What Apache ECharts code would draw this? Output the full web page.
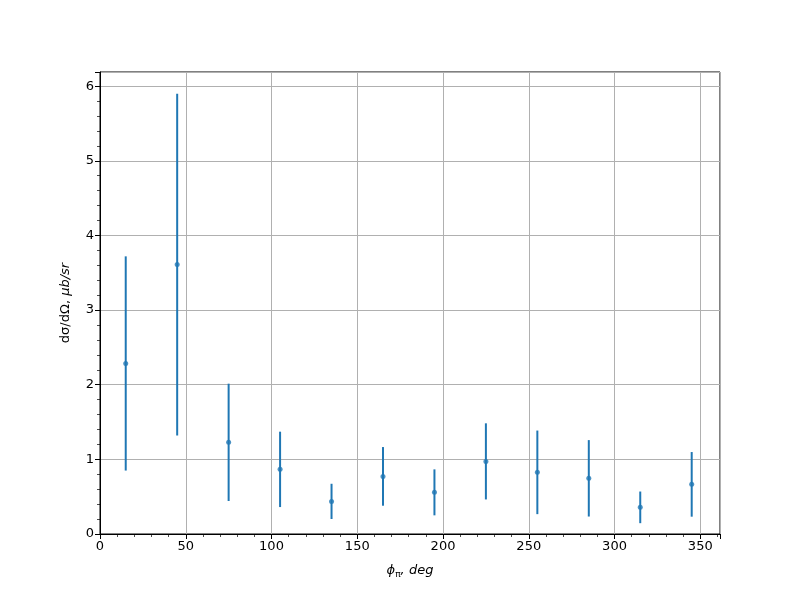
<!DOCTYPE html>
<html>
<head>
<meta charset="utf-8">
<script src="https://cdn.jsdelivr.net/npm/echarts@6/dist/echarts.min.js"></script>
<style>html,body{margin:0;padding:0;background:#fff}#c{width:800px;height:600px}</style>
</head>
<body>
<div id="c"></div>
<script>
const phi = [15, 45, 75, 105, 135, 165, 195, 225, 255, 285, 315, 345];
const xsec = [2.285, 3.61, 1.228, 0.866, 0.437, 0.772, 0.558, 0.973, 0.826, 0.746, 0.357, 0.665];
const err = [1.435, 2.29, 0.786, 0.505, 0.236, 0.393, 0.308, 0.510, 0.560, 0.512, 0.212, 0.433];
const xTicks = [0, 50, 100, 150, 200, 250, 300, 350];
const yTicks = [0, 1, 2, 3, 4, 5, 6];

const blue = '#1f77b4';
const font = 'DejaVu Sans';
const chart = echarts.init(document.getElementById('c'), null, {renderer: 'canvas'});

const errData = phi.map((x, i) => [x, xsec[i] - err[i], xsec[i] + err[i]]);
const ptData = phi.map((x, i) => [x, xsec[i]]);

chart.setOption({
  animation: false,
  backgroundColor: '#fff',
  grid: {left: 100, right: 80, top: 72, bottom: 66, show: true, borderColor: '#000', borderWidth: 1, backgroundColor: 'transparent'},
  xAxis: {
    type: 'value', min: 0, max: 361.5, interval: 50,
    axisLine: {show: true, onZero: false, lineStyle: {color: '#000', width: 1}},
    axisTick: {show: true, inside: false, length: 5, lineStyle: {color: '#000', width: 1}},
    minorTick: {show: true, splitNumber: 5, length: 3, lineStyle: {color: '#000', width: 0.7}},
    splitLine: {show: true, lineStyle: {color: '#b0b0b0', width: 1}},
    axisLabel: {color: '#000', fontFamily: font, fontSize: 13, margin: 6, showMaxLabel: false,
      formatter: v => xTicks.includes(v) ? String(v) : ''},
    name: '', nameLocation: 'middle', nameGap: 28,
    nameTextStyle: {
      rich: {
        it: {fontFamily: font, fontStyle: 'italic', fontSize: 13, color: '#000'},
        sub: {fontFamily: font, fontSize: 9, color: '#000', verticalAlign: 'bottom', padding: [8, 0, 0, 0]}
      }
    }
  },
  yAxis: {
    type: 'value', min: 0, max: 6.19, interval: 1,
    axisLine: {show: true, onZero: false, lineStyle: {color: '#000', width: 1}},
    axisTick: {show: true, inside: false, length: 5, lineStyle: {color: '#000', width: 1}},
    minorTick: {show: true, splitNumber: 5, length: 3, lineStyle: {color: '#000', width: 0.7}},
    splitLine: {show: true, lineStyle: {color: '#b0b0b0', width: 1}},
    axisLabel: {color: '#000', fontFamily: font, fontSize: 13, margin: 6, showMaxLabel: false,
      formatter: v => yTicks.includes(v) ? String(v) : ''},
    name: '{n|dσ/dΩ, }{it|μb/sr}', nameLocation: 'middle', nameGap: 28, nameRotate: 90,
    nameTextStyle: {
      rich: {
        n: {fontFamily: font, fontSize: 13, color: '#000'},
        it: {fontFamily: font, fontStyle: 'italic', fontSize: 13, color: '#000'}
      }
    }
  },
  series: [
    {
      type: 'custom',
      data: errData,
      renderItem: function (params, api) {
        const p1 = api.coord([api.value(0), api.value(1)]);
        const p2 = api.coord([api.value(0), api.value(2)]);
        return {type: 'line', shape: {x1: p1[0], y1: p1[1], x2: p2[0], y2: p2[1]},
          style: {stroke: blue, lineWidth: 2}};
      },
      z: 3
    },
    {
      type: 'scatter', data: ptData, symbol: 'circle', symbolSize: 5,
      itemStyle: {color: blue}, z: 4
    }
  ]
});
chart.setOption({xAxis: {name: '{it|ϕ}{sub|π}{it|, deg}'}});
</script>
</body>
</html>
